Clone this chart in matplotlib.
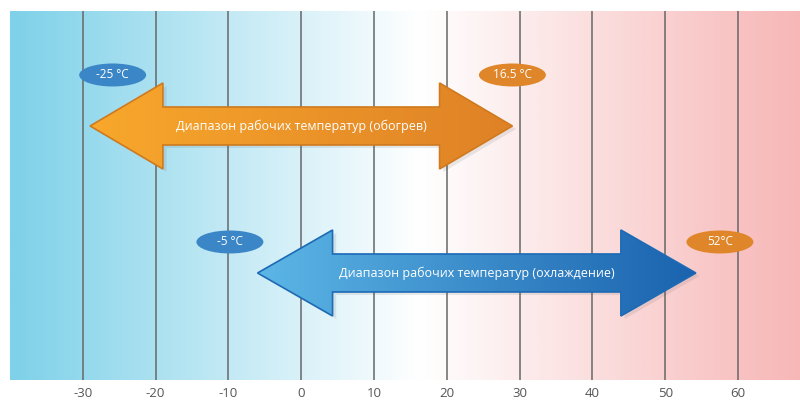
import numpy as np
import matplotlib.pyplot as plt
from matplotlib.colors import LinearSegmentedColormap
from matplotlib.patches import Polygon, Ellipse

plt.rcParams['font.family'] = ['Open Sans', 'DejaVu Sans']

ticks = [-30, -20, -10, 0, 10, 20, 30, 40, 50, 60]

# arrows: tip positions (deg C) and vertical centre
heat_span = [-29, 29]
cool_span = [-6, 54.2]
heat_y = 254
cool_y = 107
heat_text = 'Диапазон рабочих температур (обогрев)'
cool_text = 'Диапазон рабочих температур (охлаждение)'

# bubble labels
heat_labels = ['-25 °C', '16.5 °C']
heat_label_x = [-25.9, 29.0]
heat_label_y = 305
cool_labels = ['-5 °C', '52°C']
cool_label_x = [-9.8, 57.5]
cool_label_y = 138

xmin, xmax = -40, 68.5
ymin, ymax = 0, 369

fig = plt.figure(figsize=(8, 4.01), dpi=100)
ax = fig.add_axes([0.0125, 0.0524, 0.9875, 0.9202])

# background gradient
bg = LinearSegmentedColormap.from_list('bg', [(0, '#7ed1e9'), (0.52, '#ffffff'), (1, '#f7b7b7')])
ax.imshow(np.linspace(0, 1, 512)[None, :], extent=[xmin, xmax, ymin, ymax], cmap=bg,
          aspect='auto', zorder=0, interpolation='bilinear')

for t in ticks:
    ax.axvline(t, color='#676767', lw=1.1, zorder=1)


def arrow_pts(x0, x1, yc, head=10, hh=43, sh=19):
    return [(x0, yc), (x0 + head, yc + hh), (x0 + head, yc + sh), (x1 - head, yc + sh),
            (x1 - head, yc + hh), (x1, yc), (x1 - head, yc - hh), (x1 - head, yc - sh),
            (x0 + head, yc - sh), (x0 + head, yc - hh)]


def draw_arrow(span, yc, c0, c1, edge, text, head):
    pts = arrow_pts(span[0], span[1], yc, head=head)
    sh = Polygon([(x + 0.5, y - 3) for x, y in pts], closed=True, fc='#555555', ec='none',
                 alpha=0.12, zorder=2)
    ax.add_patch(sh)
    poly = Polygon(pts, closed=True, fc='none', ec=edge, lw=1.2, zorder=4)
    ax.add_patch(poly)
    cm = LinearSegmentedColormap.from_list('a', [c0, c1])
    im = ax.imshow(np.linspace(0, 1, 256)[None, :], extent=[span[0], span[1], yc - 45, yc + 45],
                   cmap=cm, aspect='auto', zorder=3)
    im.set_clip_path(poly)
    ax.text((span[0] + span[1]) / 2, yc, text, color='white', fontsize=9,
            ha='center', va='center', zorder=5)


draw_arrow(heat_span, heat_y, '#f8a82c', '#df8126', '#cf7a1e', heat_text, 10)
draw_arrow(cool_span, cool_y, '#5cb6e6', '#1a62ae', '#1d6ab5', cool_text, 10.3)


def bubble(x, y, s, color):
    ax.add_patch(Ellipse((x, y), 9.2, 23, fc=color, ec='none', zorder=6))
    ax.text(x, y, s, color='white', fontsize=8.5, ha='center', va='center', zorder=7)


bubble(heat_label_x[0], heat_label_y, heat_labels[0], '#3b86c7')
bubble(heat_label_x[1], heat_label_y, heat_labels[1], '#e0862a')
bubble(cool_label_x[0], cool_label_y, cool_labels[0], '#3b86c7')
bubble(cool_label_x[1], cool_label_y, cool_labels[1], '#e0862a')

ax.set_xlim(xmin, xmax)
ax.set_ylim(ymin, ymax)
ax.set_xticks(ticks)
ax.set_xticklabels([str(t) for t in ticks], color='#555555', fontsize=9.5)
ax.set_yticks([])
ax.tick_params(axis='x', length=0, pad=5)
for s in ax.spines.values():
    s.set_visible(False)

fig.savefig('out.png', dpi=100)
